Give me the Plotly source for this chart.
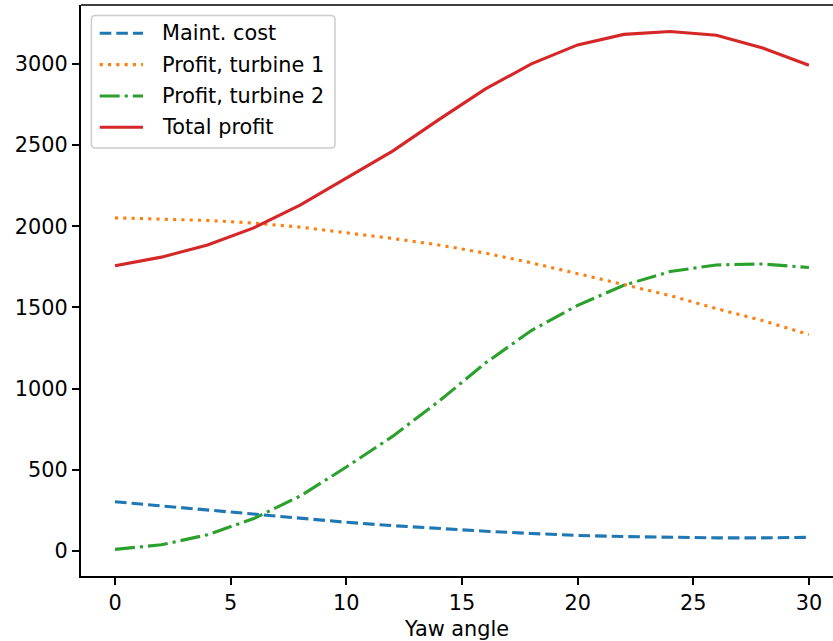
import plotly.graph_objects as go

yaw = [0, 2, 4, 6, 8, 10, 12, 14, 16, 18, 20, 22, 24, 26, 28, 30]
maint_cost = [303, 278, 252, 226, 200, 177, 156, 138, 122, 108, 96, 89, 84, 81, 81, 84]
profit_t1 = [2052, 2046, 2036, 2020, 1995, 1960, 1925, 1885, 1835, 1775, 1710, 1641, 1573, 1493, 1419, 1333]
profit_t2 = [10, 38, 100, 200, 338, 517, 706, 922, 1156, 1358, 1513, 1637, 1721, 1762, 1768, 1746]
total_profit = [1757, 1810, 1885, 1990, 2131, 2297, 2463, 2657, 2845, 3000, 3117, 3182, 3200, 3177, 3098, 2992]

series_names = ["Maint. cost", "Profit, turbine 1", "Profit, turbine 2", "Total profit"]
series_values = [maint_cost, profit_t1, profit_t2, total_profit]
colors = ["#1f77b4", "#ff7f0e", "#2ca02c", "#d62728"]
dashes = ["11.6px,5px", "3.1px,5.2px", "20px,5px,3.1px,5px", "solid"]

x_ticks = [0, 5, 10, 15, 20, 25, 30]
y_ticks = [0, 500, 1000, 1500, 2000, 2500, 3000]

LW = 3.1
W, H = 833, 641
ml, mr, mt, mb = 81, 0, 5, 65
pw = W - ml - mr
ph = H - mt - mb


def px_x(p):
    return (p - ml) / pw


def px_y(p):
    return 1 - (p - mt) / ph


fig = go.Figure()
for name, vals, c, d in zip(series_names, series_values, colors, dashes):
    fig.add_trace(go.Scatter(x=yaw, y=vals, mode="lines", name=name, showlegend=False,
                             line=dict(color=c, width=LW, dash=d)))

font = dict(family="DejaVu Sans", size=20.8, color="black")
fig.update_layout(
    width=W, height=H,
    margin=dict(l=ml, r=mr, t=mt, b=mb, pad=0),
    paper_bgcolor="white", plot_bgcolor="white",
    font=font,
    showlegend=False,
    xaxis=dict(range=[-1.47, 31.04], tickvals=x_ticks, ticktext=[str(v) for v in x_ticks],
               showgrid=False, zeroline=False, showline=True, linecolor="black", linewidth=1.6,
               ticks="outside", ticklen=7.3, tickwidth=1.6, tickcolor="black",
               title=dict(text="Yaw angle", font=font, standoff=8)),
    yaxis=dict(range=[-154, 3363], tickvals=y_ticks, ticktext=[str(v) for v in y_ticks],
               showgrid=False, zeroline=False, showline=True, linecolor="black", linewidth=1.6,
               ticks="outside", ticklen=7.3, tickwidth=1.6, tickcolor="black"),
)
fig.add_shape(type="line", xref="paper", yref="paper", x0=0, x1=1, y0=1, y1=1,
              line=dict(color="black", width=1.6))

# legend box (rounded), drawn in pixel-derived paper coordinates
bx0, bx1, by0, by1, r = 91.4, 335, 15.4, 148, 4
path = (f"M {px_x(bx0 + r)} {px_y(by0)} L {px_x(bx1 - r)} {px_y(by0)} "
        f"Q {px_x(bx1)} {px_y(by0)} {px_x(bx1)} {px_y(by0 + r)} "
        f"L {px_x(bx1)} {px_y(by1 - r)} Q {px_x(bx1)} {px_y(by1)} {px_x(bx1 - r)} {px_y(by1)} "
        f"L {px_x(bx0 + r)} {px_y(by1)} Q {px_x(bx0)} {px_y(by1)} {px_x(bx0)} {px_y(by1 - r)} "
        f"L {px_x(bx0)} {px_y(by0 + r)} Q {px_x(bx0)} {px_y(by0)} {px_x(bx0 + r)} {px_y(by0)} Z")
fig.add_shape(type="path", xref="paper", yref="paper", path=path,
              fillcolor="rgba(255,255,255,0.8)", line=dict(color="#cccccc", width=1.5), layer="above")

row_y = [33.3, 64.6, 96.0, 127.3]
for name, c, d, ry in zip(series_names, colors, dashes, row_y):
    fig.add_shape(type="line", xref="paper", yref="paper",
                  x0=px_x(99.7), x1=px_x(143), y0=px_y(ry), y1=px_y(ry),
                  line=dict(color=c, width=LW, dash=d), layer="above")
    fig.add_annotation(x=px_x(160), y=px_y(ry), xref="paper", yref="paper", text=name,
                       showarrow=False, xanchor="left", yanchor="middle", font=font)

fig.write_html("out.html", config={"displayModeBar": False},
               post_script="document.body.style.margin='0px';document.body.style.overflow='hidden';")
